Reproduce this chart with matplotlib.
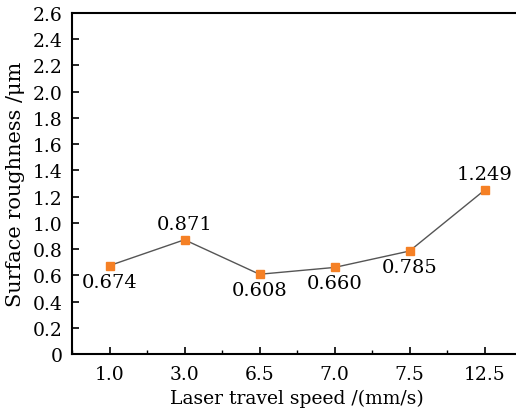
import matplotlib
matplotlib.use("Agg")
import matplotlib.pyplot as plt
from matplotlib.ticker import FixedLocator

plt.rcParams['font.family'] = ['DejaVu Serif']
plt.rcParams['mathtext.fontset'] = 'dejavuserif'

speeds = ["1.0", "3.0", "6.5", "7.0", "7.5", "12.5"]
roughness = [0.674, 0.871, 0.608, 0.660, 0.785, 1.249]
label_pos = ["below", "above", "below", "below", "below", "above"]

fig = plt.figure(figsize=(5.16, 4.14), dpi=100)
ax = fig.add_axes([72 / 516, 59 / 414, 450 / 516, 341 / 414])

x = list(range(len(speeds)))
ax.plot(x, roughness, color="#555555", linewidth=1.0, zorder=2)
ax.plot(x, roughness, "s", color="#f58025", markersize=5.5, zorder=3)

for xi, yi, pos in zip(x, roughness, label_pos):
    if pos == "above":
        ax.annotate(f"{yi:.3f}", (xi, yi), xytext=(0, 5), textcoords="offset points",
                    ha="center", va="bottom", fontsize=14)
    else:
        ax.annotate(f"{yi:.3f}", (xi, yi), xytext=(0, -5), textcoords="offset points",
                    ha="center", va="top", fontsize=14)

ax.set_xlim(-0.5, 5.5)
ax.set_ylim(0, 2.6)
ax.set_xticks(x)
ax.set_xticklabels(speeds)
ax.xaxis.set_minor_locator(FixedLocator([i + 0.5 for i in range(-1, 6)]))
ax.set_yticks([i * 0.2 for i in range(14)])
ax.set_yticklabels(["0"] + [f"{i * 0.2:.1f}" for i in range(1, 14)])

ax.tick_params(axis="both", which="major", direction="in", length=5, width=1.2, labelsize=13.5, pad=7)
ax.tick_params(axis="x", which="minor", direction="in", length=3, width=1.0)
ax.tick_params(axis="x", which="major", pad=8)

for side in ["left", "bottom", "top"]:
    ax.spines[side].set_linewidth(1.5)
ax.spines["right"].set_visible(False)

ax.set_xlabel("Laser travel speed /(mm/s)", fontsize=13.5, labelpad=4)
ax.set_ylabel("Surface roughness /μm", fontsize=15, labelpad=5)

fig.savefig("out.png", dpi=100)
